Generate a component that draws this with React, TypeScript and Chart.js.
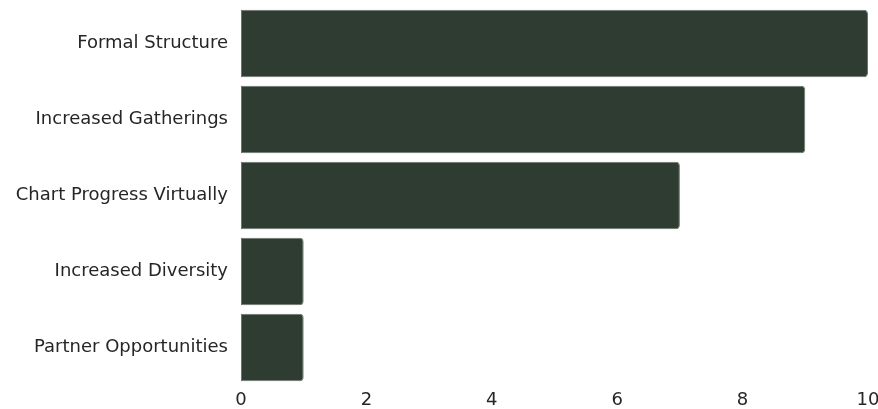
import React, { useEffect, useRef } from "react";
import { Chart, registerables } from "chart.js";
Chart.register(...registerables);

const categories = ["Formal Structure", "Increased Gatherings", "Chart Progress Virtually", "Increased Diversity", "Partner Opportunities"];
const values = [10, 9, 7, 1, 1];
const xTicks = [0, 2, 4, 6, 8, 10];

export default function App() {
  const ref = useRef<HTMLCanvasElement>(null);
  useEffect(() => {
    if (!ref.current) return;
    const chart = new Chart(ref.current, {
      type: "bar",
      data: {
        labels: categories,
        datasets: [{
          data: values,
          backgroundColor: "#2e3c32",
          borderColor: "#6b756d",
          borderWidth: 1,
          borderRadius: { topLeft: 0, bottomLeft: 0, topRight: 4, bottomRight: 4 },
          borderSkipped: false,
          barPercentage: 0.885,
          categoryPercentage: 1,
        }],
      },
      options: {
        indexAxis: "y",
        animation: false,
        responsive: false,
        layout: { padding: { top: 5.5, left: 0, right: 10, bottom: 0 } },
        plugins: { legend: { display: false }, tooltip: { enabled: false } },
        scales: {
          x: {
            min: 0, max: 10,
            afterBuildTicks: (ax: any) => { ax.ticks = xTicks.map(v => ({ value: v })); },
            afterFit: (s: any) => { s.height = 23.5; s.paddingLeft = 0; s.paddingRight = 0; },
            grid: { display: false, drawTicks: false },
            border: { display: false },
            ticks: { color: "#262626", font: { family: "DejaVu Sans", size: 18 }, padding: 4 },
          },
          y: {
            afterFit: (s: any) => { s.width = 241; s.paddingTop = 0; s.paddingBottom = 0; },
            grid: { display: false, drawTicks: false },
            border: { display: false },
            ticks: { color: "#262626", font: { family: "DejaVu Sans", size: 18 }, padding: 13 },
          },
        },
      },
    });
    return () => chart.destroy();
  }, []);
  return (
    <div style={{ position: "absolute", left: 0, top: 0, width: 878, height: 409 }}>
      <canvas ref={ref} width={878} height={409} style={{ display: "block" }} />
    </div>
  );
}
